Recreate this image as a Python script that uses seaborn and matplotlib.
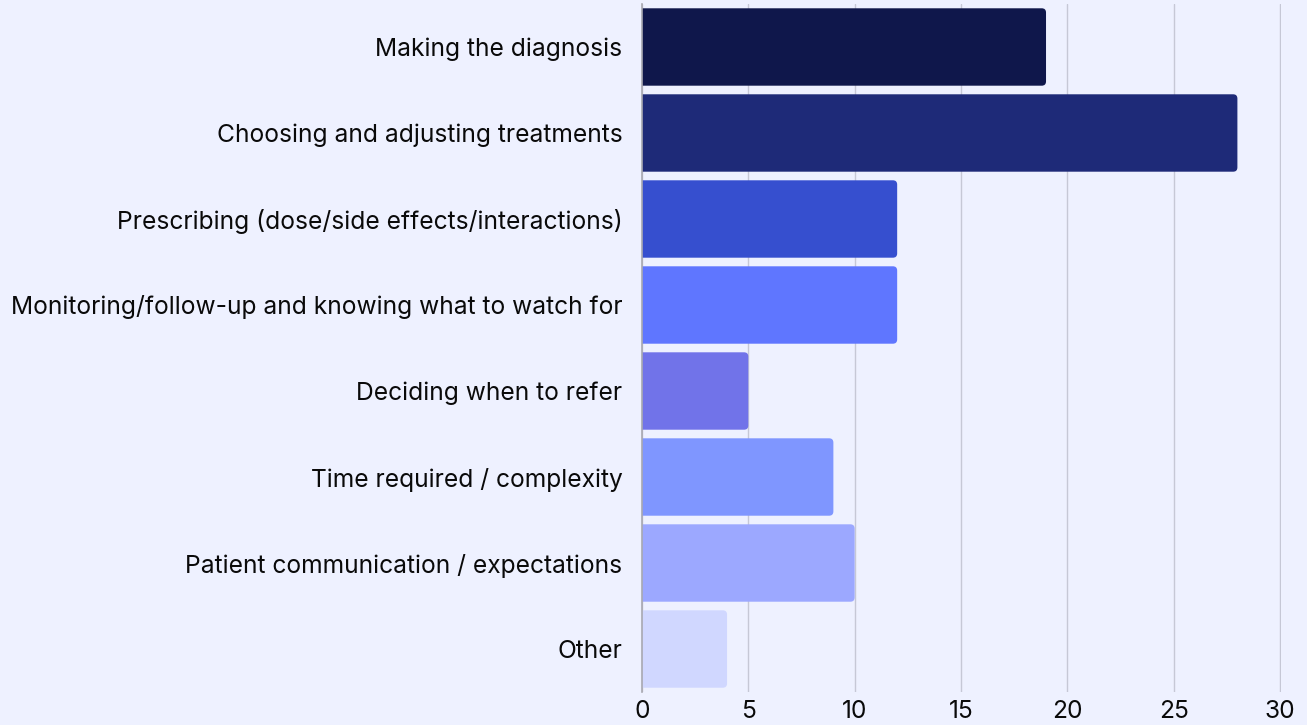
import matplotlib
matplotlib.use('Agg')
import matplotlib.pyplot as plt
from matplotlib.patches import FancyBboxPatch
import seaborn as sns
import pandas as pd

categories = ['Making the diagnosis',
              'Choosing and adjusting treatments',
              'Prescribing (dose/side effects/interactions)',
              'Monitoring/follow-up and knowing what to watch for',
              'Deciding when to refer',
              'Time required / complexity',
              'Patient communication / expectations',
              'Other']
counts = [19, 28, 12, 12, 5, 9, 10, 4]
bar_colors = ['#0f174b', '#1e2a78', '#364fcf', '#5f76ff',
              '#7173e9', '#7f96ff', '#9ca8ff', '#d0d7ff']
x_ticks = [0, 5, 10, 15, 20, 25, 30]

bg = '#eef1ff'
sns.set_style('white')
plt.rcParams['font.family'] = ['Inter', 'DejaVu Sans']

df = pd.DataFrame({'category': categories, 'count': counts})

fig = plt.figure(figsize=(13.07, 7.25), dpi=100, facecolor=bg)
ax = fig.add_axes([0.4912, 0.0455, 0.4889, 0.949])
ax.set_facecolor(bg)

sns.barplot(data=df, y='category', x='count', hue='category',
            palette=bar_colors, orient='h', width=0.9, saturation=1,
            legend=False, ax=ax, zorder=2)

# swap plain bars for ones with rounded right corners
aspect = 0.25
for p in list(ax.patches):
    x0, y0 = p.get_x(), p.get_y()
    w, h = p.get_width(), p.get_height()
    fc = p.get_facecolor()
    p.remove()
    ax.add_patch(FancyBboxPatch((x0 - 1, y0), w + 1, h,
                                boxstyle='round,pad=0,rounding_size=0.2',
                                mutation_aspect=aspect, fc=fc, ec='none',
                                zorder=2, clip_on=True))

ax.set_xlim(0, 30.05)
ax.set_ylim(7.5, -0.5)
ax.set_xticks(x_ticks)
ax.xaxis.grid(True, color='#c6c8d6', linewidth=1.0, zorder=0)
ax.set_axisbelow(True)
for s in ['top', 'right', 'bottom']:
    ax.spines[s].set_visible(False)
ax.spines['left'].set_color('#a8a8b0')
ax.spines['left'].set_linewidth(1.2)
ax.spines['left'].set_zorder(3)
ax.tick_params(axis='both', length=0, labelsize=17.7, colors='#0a0a0a')
ax.tick_params(axis='y', pad=14)
ax.tick_params(axis='x', pad=6)
ax.set_xlabel('')
ax.set_ylabel('')

fig.savefig('out.png', dpi=100, facecolor=bg)
